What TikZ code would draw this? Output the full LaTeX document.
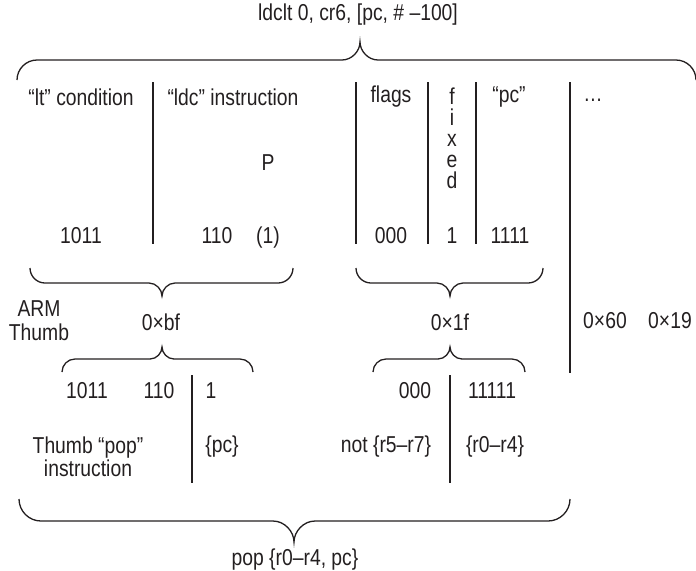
\documentclass[tikz,border=0pt]{standalone}
\usepackage{fontspec}
\setmainfont{Liberation Sans}[FakeStretch=0.84]
\usepackage{tikz}
\usetikzlibrary{positioning,calc}
\definecolor{ink}{HTML}{231F20}

% curly brace: left x, right x, tip x, end y, line y, tip y
\newcommand{\curlybrace}[6]{%
  \draw[bracepath] (#1,#4) .. controls (#1,{#4+0.55*(#5-#4)}) and ({#1+0.45*abs(#5-#4)},#5) .. ({#1+abs(#5-#4)},#5)
    -- ({#3-abs(#6-#5)},#5) .. controls ({#3-0.45*abs(#6-#5)},#5) and (#3,{#5+0.5*(#6-#5)}) .. (#3,#6)
    .. controls (#3,{#5+0.5*(#6-#5)}) and ({#3+0.45*abs(#6-#5)},#5) .. ({#3+abs(#6-#5)},#5)
    -- ({#2-abs(#5-#4)},#5) .. controls ({#2-0.45*abs(#5-#4)},#5) and (#2,{#4+0.55*(#5-#4)}) .. (#2,#4);}

\begin{document}
\begin{tikzpicture}[x=0.5pt, y=-0.5pt,
        lbl/.style={font=\fontsize{11.5}{10.5}\selectfont, text=ink, inner sep=0pt, align=center},
        bit/.style={lbl, anchor=base},
        bracepath/.style={draw=ink, line width=0.65pt},
        sepline/.style={draw=ink, line width=0.65pt},
      ]
        \useasboundingbox (0,0) rectangle (696,570);
        % ARM instruction
        \node[lbl] (arm) at (358,15) {ldclt 0, cr6, [pc, \# –100]};
        \curlybrace{17}{696}{360}{80}{60}{42}
        \node[lbl] (ltcond) at (81,97) {“lt” condition};
        \node[lbl] (ldcins) at (233,97) {“ldc” instruction};
        \node[lbl] (flags) at (391,97) {flags};
        \node[lbl] (fixed) at (452,138) {f\\i\\x\\e\\d};
        \node[lbl] (pcreg) at (509,97) {“pc”};
        \node[lbl] (more) at (593,100) {\ldots};
        \node[lbl] (pbit) at (268,163) {P};
        % ARM bits
        \node[bit] (armcond) at (81,243) {1011};
        \node[bit] (armop) at (217,243) {110};
        \node[bit] (armp) at (268,243) {(1)};
        \node[bit] (armflags) at (391,243) {000};
        \node[bit] (armfix) at (452,243) {1};
        \node[bit] (armpc) at (510,243) {1111};
        \foreach \x in {153,356,428,476}
          \draw[sepline] (\x,82) -- (\x,244);
        \draw[sepline] (570,82) -- (570,373);
        % bytes
        \curlybrace{30}{293}{162}{268}{283}{296}
        \curlybrace{356}{543}{450}{268}{283}{296}
        \node[lbl, font=\fontsize{11.5}{12}\selectfont] (armthumb) at (39,321) {ARM\\Thumb};
        \node[lbl] (bytebf) at (161,322) {0×bf};
        \node[lbl] (byte1f) at (450,322) {0×1f};
        \node[lbl] (byte60) at (605,321) {0×60};
        \node[lbl] (byte19) at (670,321) {0×19};
        \curlybrace{62}{253}{162}{372}{359}{347}
        \curlybrace{373}{525}{450}{372}{359}{347}
        % Thumb bits
        \node[bit] (thcond) at (87,398) {1011};
        \node[bit] (thop) at (159,398) {110};
        \node[bit] (thpc) at (211,398) {1};
        \node[bit] (thnot) at (415,398) {000};
        \node[bit] (thregs) at (492,398) {11111};
        \foreach \x in {192,450}
          \draw[sepline] (\x,375) -- (\x,483);
        \node[lbl] (thpop) at (88,457) {Thumb “pop”\\instruction};
        \node[lbl] (setpc) at (222,447) {\{pc\}};
        \node[lbl] (setnot) at (386,447) {not \{r5–r7\}};
        \node[lbl] (setlow) at (495,447) {\{r0–r4\}};
        \curlybrace{19}{570}{294}{499}{521}{542}
        \node[lbl] (thumb) at (295,560) {pop \{r0–r4, pc\}};
      \end{tikzpicture}
\end{document}
